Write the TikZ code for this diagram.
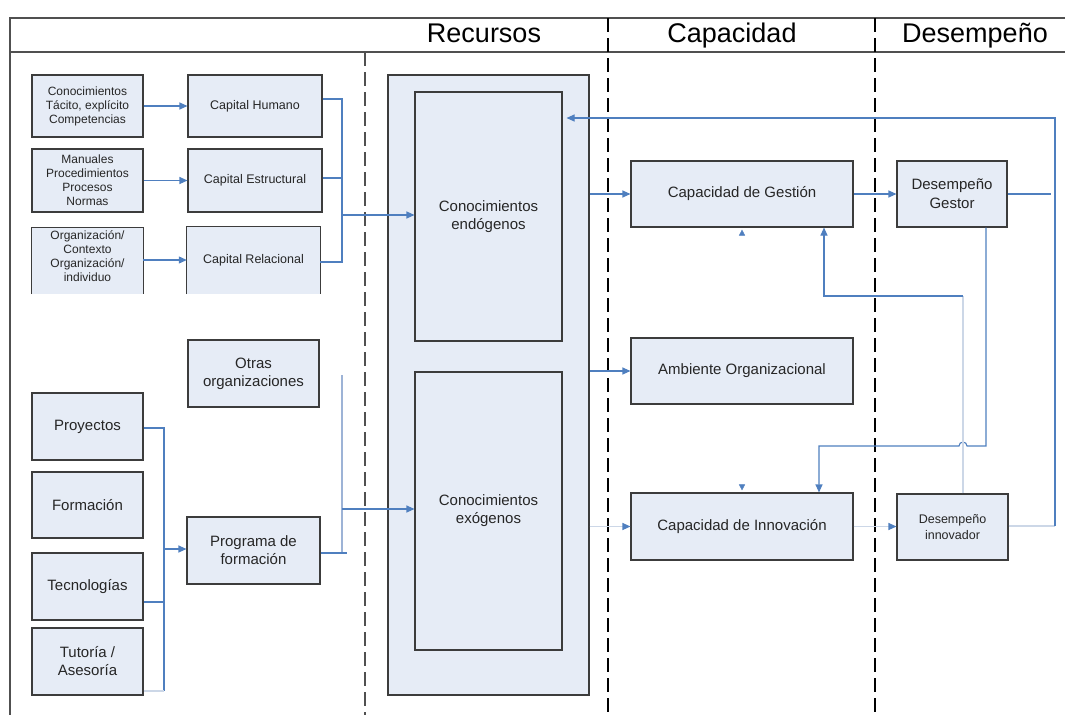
\documentclass[tikz,border=0pt]{standalone}
\usepackage{fontspec}
\setmainfont{Liberation Sans}
\usetikzlibrary{arrows.meta,calc}
\definecolor{boxfill}{HTML}{E6ECF6}
\definecolor{boxline}{HTML}{3C3C3C}
\definecolor{conblue}{HTML}{4F7FBF}
\definecolor{faintc}{HTML}{CCD7E7}
\definecolor{lightblue}{HTML}{9DB3D6}
\definecolor{txt}{HTML}{262626}
\definecolor{framec}{HTML}{505050}
\begin{document}
\begin{tikzpicture}[x=1pt,y=-1pt,
  nbox/.style={draw=boxline,fill=boxfill,line width=1.1pt,align=center,text=txt,inner sep=1pt},
  obox/.style={fill=boxfill,draw=none,inner sep=0pt},
  edge3/.style={draw=boxline,line width=1.1pt},
  lab/.style={align=center,text=txt,inner sep=0pt},
  small/.style={font=\fontsize{12}{14}\selectfont},
  mid/.style={font=\fontsize{12.5}{15}\selectfont},
  big/.style={font=\fontsize{15}{18}\selectfont},
  head/.style={font=\fontsize{27}{30}\selectfont,text=black,inner sep=0pt,anchor=base},
  conn/.style={draw=conblue,line width=1.1pt},
  faint/.style={draw=faintc,line width=1.1pt},
  lconn/.style={draw=lightblue,line width=1.1pt},
  arr/.style={-{Triangle[length=8pt,width=7pt,color=conblue]}},
  ghost/.style={draw=white,line width=0.5pt,-{Triangle[length=6pt,width=6pt,color=conblue]}},
  dashl/.style={draw=black,line width=1.3pt,dash pattern=on 14pt off 6pt},
  framel/.style={draw=framec,line width=1.2pt}
]
\useasboundingbox (0,0) rectangle (1065,715);

% header frame
\draw[framel] (1065,18) -- (10,18) -- (10,715);
\draw[framel] (10,52) -- (1065,52);
\node[head] (hRec) at (484,42) {Recursos};
\node[head] (hCap) at (732,42) {Capacidad};
\node[head] (hDes) at (975,42) {Desempeño};

% column separators
\draw[dashl,draw=framec] (365,52) -- (365,715);
\draw[dashl] (608,18) -- (608,715);
\draw[dashl] (875,18) -- (875,715);

% left top column
\node[nbox,small,minimum width=111pt,minimum height=62pt] (kA) at (87.5,106) {Conocimientos\\Tácito, explícito\\Competencias};
\node[nbox,small,minimum width=111pt,minimum height=63pt] (kB) at (87.5,180.5) {Manuales\\Procedimientos\\Procesos\\Normas};
\node[obox,minimum width=111pt,minimum height=66pt] (kC) at (87.5,261) {};
\draw[edge3] (kC.south west) -- (kC.north west) -- (kC.north east) -- (kC.south east);
\node[lab,small] (kCt) at (87.5,256) {Organización/\\Contexto\\Organización/\\individuo};

\node[nbox,mid,minimum width=134pt,minimum height=62pt] (capH) at (255,106) {Capital Humano};
\node[nbox,mid,minimum width=134pt,minimum height=63pt] (capE) at (255,180.5) {Capital Estructural};
\node[obox,minimum width=133pt,minimum height=67pt] (capR) at (253.5,260.5) {};
\draw[edge3] (capR.south west) -- (capR.north west) -- (capR.north east) -- (capR.south east);
\node[lab,mid] (capRt) at (253.5,260) {Capital Relacional};

% left bottom column
\node[nbox,big,minimum width=131pt,minimum height=67pt] (otras) at (253.5,373.5) {Otras\\organizaciones};
\node[nbox,big,minimum width=111pt,minimum height=67pt] (proy) at (87.5,426.5) {Proyectos};
\node[nbox,big,minimum width=111pt,minimum height=66pt] (form) at (87.5,505) {Formación};
\node[nbox,big,minimum width=111pt,minimum height=67pt] (tec) at (87.5,586.5) {Tecnologías};
\node[nbox,big,minimum width=111pt,minimum height=67pt] (tut) at (87.5,661.5) {Tutoría /\\Asesoría};
\node[nbox,big,minimum width=133pt,minimum height=67pt] (prog) at (253.5,550.5) {Programa de\\formación};

% resources
\node[nbox,minimum width=201pt,minimum height=620pt] (bigbox) at (488.5,385) {};
\node[nbox,big,minimum width=147pt,minimum height=249pt] (endo) at (488.5,216.5) {Conocimientos\\endógenos};
\node[nbox,big,minimum width=147pt,minimum height=278pt] (exo) at (488.5,511) {Conocimientos\\exógenos};

% capacity
\node[nbox,big,minimum width=222pt,minimum height=66pt] (cdg) at (742,194) {Capacidad de Gestión};
\node[nbox,big,minimum width=222pt,minimum height=66pt] (amb) at (742,371) {Ambiente Organizacional};
\node[nbox,big,minimum width=222pt,minimum height=67pt] (cdi) at (742,526.5) {Capacidad de Innovación};

% performance
\node[nbox,big,font=\fontsize{15}{19}\selectfont,minimum width=110pt,minimum height=66pt] (dg) at (952,194) {Desempeño\\Gestor};
\node[nbox,font=\fontsize{12.5}{16}\selectfont,minimum width=111pt,minimum height=66pt] (di) at (952.5,527) {Desempeño\\innovador};

% --- connectors, top left
\draw[conn,arr] (kA.east) -- (capH.west);
\draw[conn,arr] (kB.east) -- (capE.west);
\draw[conn,arr] (kC.east |- capRt.west) -- (capR.west |- capRt.west);
\coordinate (j1t) at (342,99);
\coordinate (j1e) at (342,178);
\coordinate (j1b) at (342,262);
\coordinate (j1m) at (342,215);
\draw[conn] ([yshift=7pt]capH.east) -- (j1t) -- (j1b) -- ([yshift=-1.5pt]capR.east);
\draw[conn] ([yshift=2.5pt]capE.east) -- (j1e);
\draw[conn,arr] (j1m) -- (endo.west |- j1m);

% --- connectors, bottom left
\coordinate (j2t) at (164,428);
\coordinate (j2c) at (164,602);
\coordinate (j2b) at (164,691);
\coordinate (j2m) at (164,549);
\draw[conn] ([yshift=-1.5pt]proy.east) -- (j2t) -- (j2b);
\draw[conn] ([yshift=-15.5pt]tec.east) -- (j2c);
\draw[faint] ([yshift=-29.5pt]tut.east) -- (j2b);
\draw[conn,arr] (j2m) -- (prog.west |- j2m);
\coordinate (j3t) at (342,375);
\coordinate (j3b) at (342,553);
\coordinate (j3m) at (342,509);
\coordinate (j3x) at (347,553);
\draw[lconn] (j3t) -- (j3b);
\draw[conn] ([yshift=-2.5pt]prog.east) -- (j3x);
\draw[conn,arr] (j3m) -- (exo.west |- j3m);

% --- resources to capacity
\draw[conn,arr] (bigbox.east |- cdg.west) -- (cdg.west);
\draw[conn,arr] (bigbox.east |- amb.west) -- (amb.west);
\draw[faint,arr] (bigbox.east |- cdi.west) -- (cdi.west);

% --- capacity to performance
\draw[conn,arr] (cdg.east) -- (dg.west);
\draw[faint,arr] (cdi.east) -- (di.west |- cdi.east);

% --- feedback to resources
\coordinate (rtop) at (1055,118);
\coordinate (rbot) at (1055,526);
\coordinate (rdg) at (1051,194);
\draw[conn] (dg.east) -- (rdg);
\draw[faint] ([yshift=1pt]di.east) -- (rbot);
\draw[conn,arr,shorten >=4pt] (rbot) -- (rtop) -- (endo.east |- rtop);

% --- performance feedback to capacity
\coordinate (g1) at (986,446);
\coordinate (g2) at (967,446);
\coordinate (g3) at (819,446);
\draw[conn,arr] ([xshift=34pt]dg.south) -- (g1) -- (g2) arc[start angle=0,end angle=180,radius=4pt] -- (g3) -- (g3 |- cdi.north);
\coordinate (h1) at (963,296);
\coordinate (h2) at (824,296);
\draw[faint] ([xshift=10.5pt]di.north) -- (h1);
\draw[conn,arr] (h1) -- (h2) -- (h2 |- cdg.south);

% --- small arrow heads between capacities
\draw[ghost,shorten >=2pt] ([yshift=-9pt]cdg.south) -- (cdg.south);
\draw[ghost,shorten >=2pt] ([yshift=9pt]cdi.north) -- (cdi.north);
\end{tikzpicture}
\end{document}
